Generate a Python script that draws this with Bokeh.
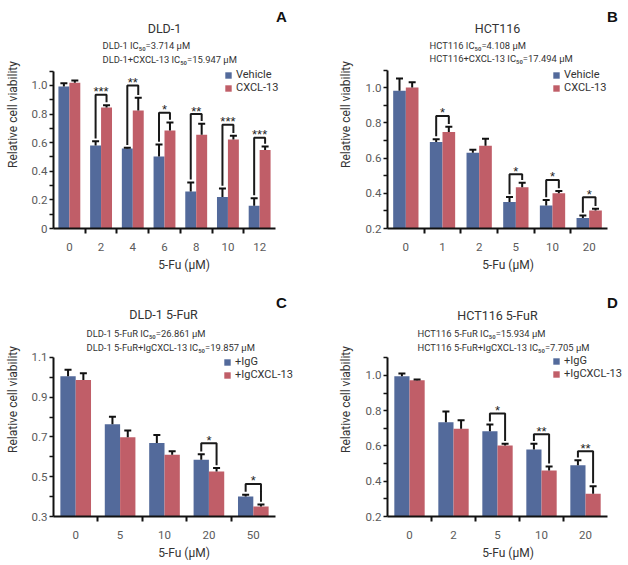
from bokeh.plotting import figure
from bokeh.layouts import column, row
from bokeh.models import (ColumnDataSource, FixedTicker, Whisker, TeeHead, Label,
                          Legend, LegendItem)
from bokeh.core.properties import value
from bokeh.embed import file_html
from bokeh.resources import INLINE

# ---------------- data ----------------
# Panel A: DLD-1
doses_A = ["0", "2", "4", "6", "8", "10", "12"]
vehicle_A = [0.993, 0.580, 0.559, 0.503, 0.259, 0.221, 0.159]
vehicle_A_err = [0.023, 0.030, 0.005, 0.084, 0.063, 0.058, 0.053]
cxcl_A = [1.019, 0.846, 0.825, 0.685, 0.655, 0.622, 0.548]
cxcl_A_err = [0.016, 0.016, 0.089, 0.056, 0.077, 0.026, 0.025]
sig_A = ["", "***", "**", "*", "**", "***", "***"]
sig_A_top = [None, 0.935, 1.0, 0.81, 0.80, 0.725, 0.635]
yticks_A = [0, 0.2, 0.4, 0.6, 0.8, 1.0]
ylabels_A = ["0", "0.2", "0.4", "0.6", "0.8", "1.0"]
yminor_A = [0.1, 0.3, 0.5, 0.7, 0.9, 1.1]

# Panel B: HCT116
doses_B = ["0", "1", "2", "5", "10", "20"]
vehicle_B = [0.983, 0.692, 0.630, 0.350, 0.331, 0.259]
vehicle_B_err = [0.069, 0.016, 0.017, 0.029, 0.031, 0.015]
cxcl_B = [1.002, 0.749, 0.670, 0.434, 0.400, 0.303]
cxcl_B_err = [0.029, 0.029, 0.040, 0.026, 0.013, 0.009]
sig_B = ["", "*", "", "*", "*", "*"]
sig_B_top = [None, 0.84, None, 0.508, 0.476, 0.377]
yticks_B = [0.2, 0.4, 0.6, 0.8, 1.0]
ylabels_B = ["0.2", "0.4", "0.6", "0.8", "1.0"]
yminor_B = [0.3, 0.5, 0.7, 0.9, 1.1]

# Panel C: DLD-1 5-FuR
doses_C = ["0", "5", "10", "20", "50"]
igg_C = [1.005, 0.764, 0.670, 0.586, 0.400]
igg_C_err = [0.033, 0.038, 0.040, 0.027, 0.010]
igcx_C = [0.986, 0.698, 0.610, 0.526, 0.350]
igcx_C_err = [0.034, 0.034, 0.018, 0.018, 0.010]
sig_C = ["", "", "", "*", "*"]
sig_C_top = [None, None, None, 0.668, 0.464]
yticks_C = [0.3, 0.5, 0.7, 0.9, 1.1]
ylabels_C = ["0.3", "0.5", "0.7", "0.9", "1.1"]
yminor_C = [0.4, 0.6, 0.8, 1.0]

# Panel D: HCT116 5-FuR
doses_D = ["0", "2", "5", "10", "20"]
igg_D = [0.996, 0.735, 0.684, 0.580, 0.491]
igg_D_err = [0.015, 0.060, 0.038, 0.032, 0.028]
igcx_D = [0.973, 0.697, 0.603, 0.461, 0.329]
igcx_D_err = [0.004, 0.049, 0.009, 0.023, 0.043]
sig_D = ["", "", "*", "**", "**"]
sig_D_top = [None, None, 0.784, 0.667, 0.570]
yticks_D = [0.2, 0.4, 0.6, 0.8, 1.0]
ylabels_D = ["0.2", "0.4", "0.6", "0.8", "1.0"]
yminor_D = [0.3, 0.5, 0.7, 0.9, 1.1]

# ---------------- style ----------------
FONT = "Roboto"
STAR_FONT = "Liberation Sans"
BLUE = "#536a9b"
RED = "#c05e68"
BAR_W = 0.345


def panel(doses, s1, e1, s2, e2, names, sig, sig_top, y_axis, x_end, y_end,
          yticks, ylabels, yminor, size, borders, title, letter, ic50, pos,
          legend_pos, ylab_standoff):
    n = len(doses)
    w, h = size
    bl, bb = borders
    y0, y1 = y_axis
    # the frame extends above / right of the axes so that titles and legends fit in it
    p = figure(width=w, height=h, x_range=(0, x_end), y_range=(y0, y_end),
               output_backend="svg", toolbar_location=None,
               min_border_left=bl, min_border_right=0, min_border_top=0,
               min_border_bottom=bb)
    p.outline_line_color = None
    p.grid.visible = False
    p.background_fill_color = "white"

    x1 = [i + 0.5 - BAR_W / 2 for i in range(n)]
    x2 = [i + 0.5 + BAR_W / 2 for i in range(n)]
    r1 = p.vbar(x=x1, top=s1, bottom=y0, width=BAR_W, fill_color=BLUE, line_color=None)
    r2 = p.vbar(x=x2, top=s2, bottom=y0, width=BAR_W, fill_color=RED, line_color=None)

    for xs, ss, ee in ((x1, s1, e1), (x2, s2, e2)):
        src = ColumnDataSource(dict(x=xs, lower=ss, upper=[a + b for a, b in zip(ss, ee)]))
        wk = Whisker(base="x", lower="lower", upper="upper", source=src,
                     line_color="#111111", line_width=2, level="annotation",
                     upper_head=TeeHead(size=7, line_width=2, line_color="#111111"),
                     lower_head=None)
        p.add_layout(wk)

    # significance brackets
    gap = (y1 - y0) * 0.018
    bx, by, sx, sy, st = [], [], [], [], []
    for i in range(n):
        if sig[i]:
            top = sig_top[i]
            bx.append([x1[i], x1[i], x2[i], x2[i]])
            by.append([s1[i] + e1[i] + gap, top, top, s2[i] + e2[i] + gap])
            sx.append(i + 0.5)
            sy.append(top)
            st.append(sig[i])
    p.multi_line(xs=bx, ys=by, line_color="#1a1a1a", line_width=2)
    p.text(x=sx, y=sy, text=st, text_align="center", text_baseline="alphabetic",
           y_offset=-3, text_font=value(STAR_FONT), text_font_size="13px",
           text_color="#222222")

    # axes
    xa = p.xaxis[0]
    xa.bounds = (0, n)
    xa.ticker = FixedTicker(ticks=[i + 0.5 for i in range(n)], minor_ticks=list(range(1, n)))
    xa.major_label_overrides = {i + 0.5: d for i, d in enumerate(doses)}
    xa.major_tick_line_color = None
    xa.major_tick_out = 0
    xa.major_tick_in = 0
    xa.minor_tick_out = 5
    xa.minor_tick_in = 0
    xa.minor_tick_line_width = 2
    xa.minor_tick_line_color = "#111111"
    xa.axis_line_width = 2
    xa.axis_line_color = "#111111"
    xa.major_label_standoff = 9
    xa.axis_label = "5-Fu (μM)"
    xa.axis_label_standoff = 4

    ya = p.yaxis[0]
    ya.bounds = (y0, y1)
    ya.ticker = FixedTicker(ticks=yticks, minor_ticks=yminor)
    ya.major_label_overrides = {t: l for t, l in zip(yticks, ylabels)}
    ya.major_tick_out = 4
    ya.major_tick_in = 0
    ya.minor_tick_out = 4
    ya.minor_tick_in = 0
    ya.major_tick_line_width = 1.5
    ya.minor_tick_line_width = 1.5
    ya.major_tick_line_color = "#111111"
    ya.minor_tick_line_color = "#111111"
    ya.axis_line_width = 2
    ya.axis_line_color = "#111111"
    ya.major_label_standoff = 2
    ya.axis_label = "Relative cell viability"
    ya.axis_label_standoff = ylab_standoff

    for ax in (xa, ya):
        ax.major_label_text_font = FONT
        ax.major_label_text_font_size = "11.5px"
        ax.major_label_text_color = "#5a5a5a"
        ax.axis_label_text_font = FONT
        ax.axis_label_text_font_size = "12px"
        ax.axis_label_text_font_style = "normal"
        ax.axis_label_text_color = "#333333"

    # texts above the axes (inside the extended frame)
    (tx, ty), (lx, ly), (ix, iy1, iy2) = pos
    p.add_layout(Label(x=tx, y=ty, text=title, text_align="center", text_baseline="middle",
                       text_font=FONT, text_font_size="12.5px", text_color="#333333"))
    p.add_layout(Label(x=lx, y=ly, text=letter, text_align="center", text_baseline="middle",
                       text_font="Liberation Sans", text_font_size="15px",
                       text_font_style="bold", text_color="#111111"))
    p.add_layout(Label(x=ix, y=iy1, text=ic50[0], text_align="left", text_baseline="middle",
                       text_font=FONT, text_font_size="9.4px", text_color="#333333"))
    p.add_layout(Label(x=ix, y=iy2, text=ic50[1], text_align="left", text_baseline="middle",
                       text_font=FONT, text_font_size="9.4px", text_color="#333333"))

    frame_h = h - bb
    lx_px, top_px = legend_pos
    leg_h = 24
    legend = Legend(items=[LegendItem(label=names[0], renderers=[r1]),
                           LegendItem(label=names[1], renderers=[r2])],
                    location=(lx_px, frame_h - top_px - leg_h), orientation="vertical",
                    glyph_width=8, glyph_height=8, label_standoff=4, label_height=12,
                    label_text_line_height=1.0,
                    spacing=0, padding=0, margin=0, border_line_color=None,
                    background_fill_alpha=0, label_text_font=FONT,
                    label_text_font_size="11px", label_text_color="#333333")
    p.add_layout(legend)
    return p


pA = panel(doses_A, vehicle_A, vehicle_A_err, cxcl_A, cxcl_A_err, ["Vehicle", "CXCL-13"],
           sig_A, sig_A_top, (0, 1.1), 8.23, 1.594, yticks_A, ylabels_A, yminor_A,
           (314, 282), (53, 54), "DLD-1", "A",
           ["DLD-1 IC₅₀=3.714 μM", "DLD-1+CXCL-13 IC₅₀=15.947 μM"],
           ((3.50, 1.399), (7.19, 1.483), (1.545, 1.28, 1.185)), (171, 70), 9)

pB = panel(doses_B, vehicle_B, vehicle_B_err, cxcl_B, cxcl_B_err, ["Vehicle", "CXCL-13"],
           sig_B, sig_B_top, (0.2, 1.1), 6.572, 1.496, yticks_B, ylabels_B, yminor_B,
           (314, 282), (73, 54), "HCT116", "B",
           ["HCT116 IC₅₀=4.108 μM", "HCT116+CXCL-13 IC₅₀=17.494 μM"],
           ((3.0, 1.338), (6.136, 1.406), (1.145, 1.242, 1.165)), (165, 70), 10)

pC = panel(doses_C, igg_C, igg_C_err, igcx_C, igcx_C_err, ["+IgG", "+IgCXCL-13"],
           sig_C, sig_C_top, (0.3, 1.1), 5.878, 1.477, yticks_C, ylabels_C, yminor_C,
           (314, 283), (53, 49), "DLD-1 5-FuR", "C",
           ["DLD-1 5-FuR IC₅₀=26.861 μM", "DLD-1 5-FuR+IgCXCL-13 IC₅₀=19.857 μM"],
           ((2.477, 1.316), (5.135, 1.377), (0.743, 1.221, 1.150)), (170, 75), 9)

pD = panel(doses_D, igg_D, igg_D_err, igcx_D, igcx_D_err, ["+IgG", "+IgCXCL-13"],
           sig_D, sig_D_top, (0.2, 1.1), 5.477, 1.527, yticks_D, ylabels_D, yminor_D,
           (314, 283), (73, 49), "HCT116 5-FuR", "D",
           ["HCT116 5-FuR IC₅₀=15.934 μM", "HCT116 5-FuR+IgCXCL-13 IC₅₀=7.705 μM"],
           ((2.5, 1.338), (5.114, 1.412), (0.682, 1.236, 1.157)), (165, 74), 10)

layout = column(row(pA, pB, spacing=0), row(pC, pD, spacing=0), spacing=0)

open("out.html", "w").write(file_html(layout, INLINE))
